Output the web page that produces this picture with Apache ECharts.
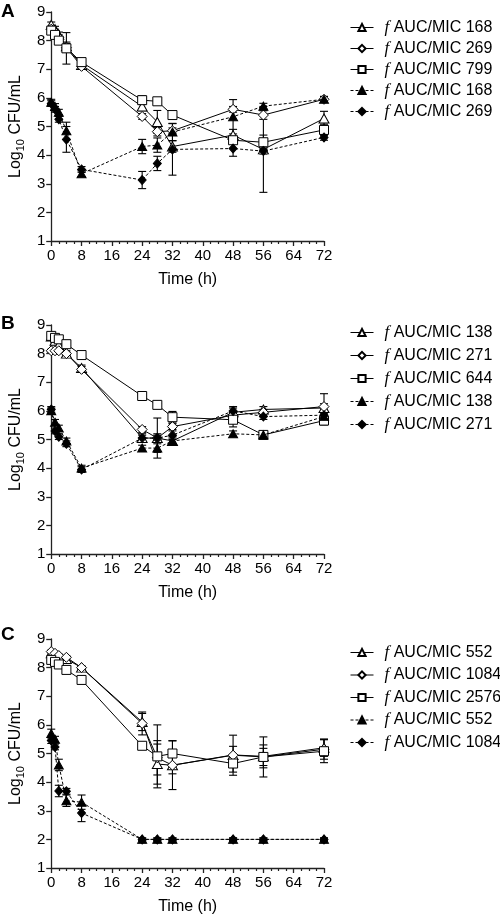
<!DOCTYPE html>
<html><head><meta charset="utf-8">
<script src="https://cdn.jsdelivr.net/npm/echarts@6/dist/echarts.min.js"></script>
<style>html,body{margin:0;padding:0;background:#fff}#c{width:500px;height:916px}</style>
</head><body><div id="c"></div>
<script>
// ---- data ----
const times = [0, 1, 2, 4, 8, 24, 28, 32, 48, 56, 72];
const xTicks = [0, 8, 16, 24, 32, 40, 48, 56, 64, 72];
const yTicks = [1, 2, 3, 4, 5, 6, 7, 8, 9];

// Panel A
const labelsA = ['168', '269', '799', '168', '269'];
const aTri168  = [8.55, 8.40, 8.20, 7.80, 7.15, 5.70, 5.16, 4.30, 4.70, 4.20, 5.28];
const aTri168E = [0.10, 0.10, 0.10, 0.15, 0.10, 0.15, 0.40, 0.20, 0.20, 1.50, 0.25];
const aDia269  = [8.40, 8.30, 8.10, 7.75, 7.10, 5.35, 4.82, 4.85, 5.60, 5.40, 5.95];
const aDia269E = [0.10, 0.10, 0.10, 0.15, 0.10, 0.10, 0.15, 0.10, 0.10, 0.15, 0.10];
const aSq799   = [8.35, 8.20, 8.00, 7.73, 7.25, 5.92, 5.88, 5.40, 4.52, 4.45, 4.88];
const aSq799E  = [0.10, 0.10, 0.10, 0.55, 0.10, 0.15, 0.10, 0.10, 0.10, 0.25, 0.20];
const aFTri168  = [5.85, 5.70, 5.50, 4.85, 3.35, 4.30, 4.35, 4.81, 5.34, 5.71, 5.95];
const aFTri168E = [0.10, 0.10, 0.10, 0.30, 0.10, 0.25, 0.25, 0.30, 0.60, 0.10, 0.10];
const aFDia269  = [5.80, 5.60, 5.25, 4.55, 3.50, 3.13, 3.71, 4.20, 4.23, 4.14, 4.62];
const aFDia269E = [0.10, 0.10, 0.10, 0.45, 0.10, 0.30, 0.25, 0.90, 0.27, 0.10, 0.10];

// Panel B
const labelsB = ['138', '271', '644', '138', '271'];
const bTri138  = [8.60, 8.45, 8.30, 8.00, 7.50, 5.05, 5.05, 4.95, 5.95, 6.05, 6.10];
const bTri138E = [0.10, 0.10, 0.10, 0.10, 0.10, 0.15, 0.70, 0.15, 0.15, 0.10, 0.15];
const bDia271  = [8.10, 8.10, 8.10, 8.00, 7.45, 5.35, 5.05, 5.45, 5.85, 5.95, 6.15];
const bDia271E = [0.05, 0.05, 0.05, 0.05, 0.10, 0.10, 0.10, 0.10, 0.10, 0.10, 0.45];
const bSq644   = [8.62, 8.55, 8.50, 8.33, 7.95, 6.52, 6.21, 5.78, 5.69, 5.16, 5.66];
const bSq644E  = [0.05, 0.05, 0.05, 0.05, 0.05, 0.05, 0.05, 0.20, 0.25, 0.10, 0.15];
const bFTri138  = [6.00, 5.60, 5.40, 4.95, 4.00, 4.70, 4.70, 4.95, 5.20, 5.16, 5.80];
const bFTri138E = [0.10, 0.10, 0.10, 0.10, 0.10, 0.10, 0.15, 0.10, 0.10, 0.10, 0.10];
const bFDia271  = [6.05, 5.30, 5.10, 4.85, 3.95, 5.05, 5.05, 5.15, 6.00, 5.80, 5.85];
const bFDia271E = [0.10, 0.10, 0.10, 0.10, 0.10, 0.10, 0.15, 0.15, 0.15, 0.10, 0.10];

// Panel C
const labelsC = ['552', '1084', '2576', '552', '1084'];
const cTri552   = [8.50, 8.45, 8.40, 8.30, 8.00, 6.10, 4.63, 4.59, 4.95, 4.90, 5.20];
const cTri552E  = [0.05, 0.05, 0.05, 0.05, 0.05, 0.30, 0.70, 0.30, 0.30, 0.40, 0.30];
const cDia1084  = [8.56, 8.50, 8.42, 8.36, 8.00, 6.05, 4.85, 4.59, 4.94, 4.88, 5.15];
const cDia1084E = [0.05, 0.05, 0.05, 0.05, 0.05, 0.40, 0.60, 0.85, 0.70, 0.70, 0.35];
const cSq2576   = [8.27, 8.20, 8.11, 7.92, 7.57, 5.27, 4.90, 5.00, 4.65, 4.88, 5.08];
const cSq2576E  = [0.05, 0.05, 0.05, 0.05, 0.05, 0.10, 1.10, 0.45, 0.30, 0.30, 0.40];
const cFTri552   = [5.70, 5.50, 4.60, 3.35, 3.30, 2.00, 2.00, 2.00, 2.00, 2.00, 2.00];
const cFTri552E  = [0.15, 0.10, 0.20, 0.20, 0.25, 0.05, 0.05, 0.05, 0.05, 0.05, 0.05];
const cFDia1084  = [5.45, 5.23, 3.69, 3.68, 2.92, 2.00, 2.00, 2.00, 2.00, 2.00, 2.00];
const cFDia1084E = [0.10, 0.10, 0.20, 0.10, 0.30, 0.05, 0.05, 0.05, 0.05, 0.05, 0.05];

// ---- build ----
const panels = [
  { id: 'A', labels: labelsA, vals: [aTri168, aDia269, aSq799, aFTri168, aFDia269], errs: [aTri168E, aDia269E, aSq799E, aFTri168E, aFDia269E] },
  { id: 'B', labels: labelsB, vals: [bTri138, bDia271, bSq644, bFTri138, bFDia271], errs: [bTri138E, bDia271E, bSq644E, bFTri138E, bFDia271E] },
  { id: 'C', labels: labelsC, vals: [cTri552, cDia1084, cSq2576, cFTri552, cFDia1084], errs: [cTri552E, cDia1084E, cSq2576E, cFTri552E, cFDia1084E] }
];
const styles = [
  { symbol: 'triangle', size: [10, 9], fill: '#fff', dash: 'solid' },
  { symbol: 'diamond', size: [10, 10], fill: '#fff', dash: 'solid' },
  { symbol: 'rect', size: [9, 9], fill: '#fff', dash: 'solid' },
  { symbol: 'triangle', size: [9, 8], fill: '#000', dash: [3, 2] },
  { symbol: 'diamond', size: [8, 9], fill: '#000', dash: [3, 2] }
];
const gridTops = [12, 325, 639];
const legendTops = [19, 324, 644];
const legendGaps = [4, 6, 5.5];
const letterTops = [2, 314, 625];
const FONT = 'Liberation Sans, Arial, sans-serif';
const AX = '#222';

const nameMap = {};
const grid = [], xAxis = [], yAxis = [], series = [], legend = [], graphic = [];
panels.forEach((p, i) => {
  grid.push({ left: 45, top: gridTops[i], width: 279, height: 229 });
  xAxis.push({
    type: 'value', gridIndex: i, min: 0, max: 72, interval: 8,
    axisLine: { show: true, onZero: false, lineStyle: { color: AX, width: 1.3 } },
    axisTick: { show: true, length: 5, lineStyle: { color: AX, width: 1.3 } },
    minorTick: { show: true, splitNumber: 4, length: 3, lineStyle: { color: AX, width: 1.2 } },
    splitLine: { show: false },
    axisLabel: { fontSize: 15, color: '#000', margin: 7, fontFamily: FONT,
      formatter: v => xTicks.indexOf(v) >= 0 ? String(v) : '' },
    name: 'Time (h)', nameLocation: 'middle', nameGap: 31,
    nameTextStyle: { fontSize: 16, color: '#000', fontFamily: FONT }
  });
  yAxis.push({
    type: 'value', gridIndex: i, min: 1, max: 9, interval: 1,
    axisLine: { show: true, onZero: false, lineStyle: { color: AX, width: 1.3 } },
    axisTick: { show: true, length: 5, lineStyle: { color: AX, width: 1.3 } },
    splitLine: { show: false },
    axisLabel: { fontSize: 15, color: '#000', margin: 6, fontFamily: FONT,
      formatter: v => yTicks.indexOf(v) >= 0 ? String(v) : '' },
    name: '{a|Log}{b|10}{a| CFU/mL}', nameLocation: 'middle', nameRotate: 90, nameGap: 25,
    nameTextStyle: { color: '#000', fontFamily: FONT,
      rich: { a: { fontSize: 16, color: '#000', fontFamily: FONT, verticalAlign: 'middle' },
              b: { fontSize: 11, color: '#000', fontFamily: FONT, padding: [9, 0, 0, 0], verticalAlign: 'middle' } } }
  });
  const names = [];
  p.vals.forEach((vals, k) => {
    const nm = p.id + k;
    names.push(nm);
    nameMap[nm] = p.labels[k];
    series.push({
      type: 'custom', name: nm + 'err', xAxisIndex: i, yAxisIndex: i, silent: true, z: 1,
      data: times.map((t, j) => [t, vals[j], p.errs[k][j]]),
      encode: { x: 0, y: 1 },
      renderItem: (params, api) => {
        const t = api.value(0), v = api.value(1), e = api.value(2);
        const a = api.coord([t, v + e]), b = api.coord([t, v - e]);
        const hw = 4, s = { stroke: '#000', lineWidth: 1.1 };
        return { type: 'group', children: [
          { type: 'line', shape: { x1: a[0], y1: a[1], x2: b[0], y2: b[1] }, style: s },
          { type: 'line', shape: { x1: a[0] - hw, y1: a[1], x2: a[0] + hw, y2: a[1] }, style: s },
          { type: 'line', shape: { x1: b[0] - hw, y1: b[1], x2: b[0] + hw, y2: b[1] }, style: s }
        ] };
      }
    });
  });
  p.vals.forEach((vals, k) => {
    const st = styles[k];
    const nm = p.id + k;
    series.push({
      type: 'line', name: nm, xAxisIndex: i, yAxisIndex: i, z: 3 + (k >= 3 ? 1 : 0),
      data: times.map((t, j) => [t, vals[j]]),
      symbol: st.symbol, symbolSize: st.size, showAllSymbol: true,
      lineStyle: { color: '#000', width: 1, type: st.dash },
      itemStyle: { color: st.fill, borderColor: '#000', borderWidth: 1 },
      emphasis: { disabled: true }
    });
  });
  legend.push({
    orient: 'vertical', left: 350, top: legendTops[i], data: names, padding: 0,
    itemWidth: 23, itemHeight: 9, itemGap: legendGaps[i], selectedMode: false,
    lineStyle: { width: 1 },
    formatter: n => '{f|f}{t| AUC/MIC ' + nameMap[n] + '}',
    textStyle: { color: '#000', rich: {
      f: { fontSize: 17, fontStyle: 'italic', fontFamily: 'Liberation Serif, serif', color: '#000', padding: [0, 0, 0, 6], lineHeight: 16 },
      t: { fontSize: 16, fontFamily: FONT, color: '#000', lineHeight: 16 }
    } }
  });
  graphic.push({ type: 'text', left: 1, top: letterTops[i], style: { text: p.id, font: 'bold 19px ' + FONT, fill: '#000' } });
});

const chart = echarts.init(document.getElementById('c'), null, { renderer: 'canvas' });
chart.setOption({ animation: false, backgroundColor: '#fff', grid, xAxis, yAxis, series, legend, graphic });
</script>
</body></html>
